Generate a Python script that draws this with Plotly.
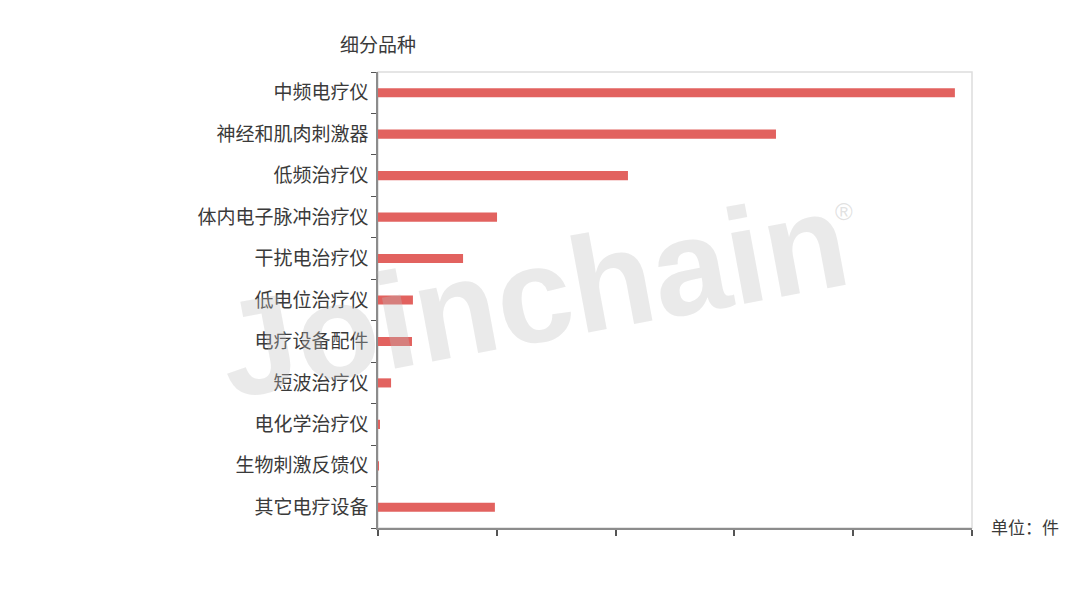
import plotly.graph_objects as go

categories = ["中频电疗仪", "神经和肌肉刺激器", "低频治疗仪", "体内电子脉冲治疗仪", "干扰电治疗仪",
              "低电位治疗仪", "电疗设备配件", "短波治疗仪", "电化学治疗仪", "生物刺激反馈仪", "其它电疗设备"]
values = [2428, 1675, 1052, 501, 358, 147, 143, 55, 6, 2, 492]

fig = go.Figure()
fig.add_trace(go.Bar(
    x=values, y=categories, orientation="h", width=0.22,
    marker=dict(color="#e2625f", line=dict(width=0)),
))

font_family = "Noto Sans CJK SC, Noto Sans, sans-serif"

fig.update_layout(
    width=1080, height=600,
    margin=dict(l=370, r=116, t=64, b=80),
    paper_bgcolor="white", plot_bgcolor="white",
    showlegend=False,
    font=dict(family=font_family, color="#3a3a3a"),
    xaxis=dict(range=[0, 2500], dtick=500, showticklabels=False, showgrid=False, zeroline=False,
               showline=True, linecolor="#8c8c8c", linewidth=1.5,
               ticks="outside", ticklen=6, tickcolor="#555555", tickwidth=1.5),
    yaxis=dict(categoryorder="array", categoryarray=categories[::-1], autorange=False,
               range=[-0.5, len(categories) - 0.5],
               showgrid=False, zeroline=False, showline=True, linecolor="#8c8c8c", linewidth=1.5,
               ticks="outside", ticklen=5, tickcolor="#555555", tickson="boundaries",
               ticklabelstandoff=4,
               tickfont=dict(size=19, color="#3a3a3a", family=font_family)),
    shapes=[dict(type="rect", xref="paper", yref="paper", x0=0, x1=1, y0=0, y1=1,
                 line=dict(color="#dddddd", width=1.5), layer="below")],
    annotations=[
        dict(text="细分品种", xref="paper", yref="paper", x=0, y=1, xshift=0, yshift=29,
             xanchor="center", yanchor="middle", showarrow=False,
             font=dict(size=19, color="#3a3a3a", family=font_family)),
        dict(text="单位：件", xref="paper", yref="paper", x=1, y=0, xshift=17, yshift=2,
             xanchor="left", yanchor="middle", showarrow=False,
             font=dict(size=17, color="#3a3a3a", family=font_family)),
        dict(text="<b>Joinchain</b>", xref="paper", yref="paper", x=0.262, y=0.51,
             xanchor="center", yanchor="middle", showarrow=False, textangle=-10.5,
             font=dict(size=136, color="rgba(190,190,190,0.32)", family="Liberation Sans, Arial, sans-serif")),
        dict(text="®", xref="paper", yref="paper", x=0.785, y=0.695,
             xanchor="center", yanchor="middle", showarrow=False,
             font=dict(size=24, color="rgba(190,190,190,0.45)", family="Liberation Sans, Arial, sans-serif")),
    ],
)

fig.write_html("out.html")
